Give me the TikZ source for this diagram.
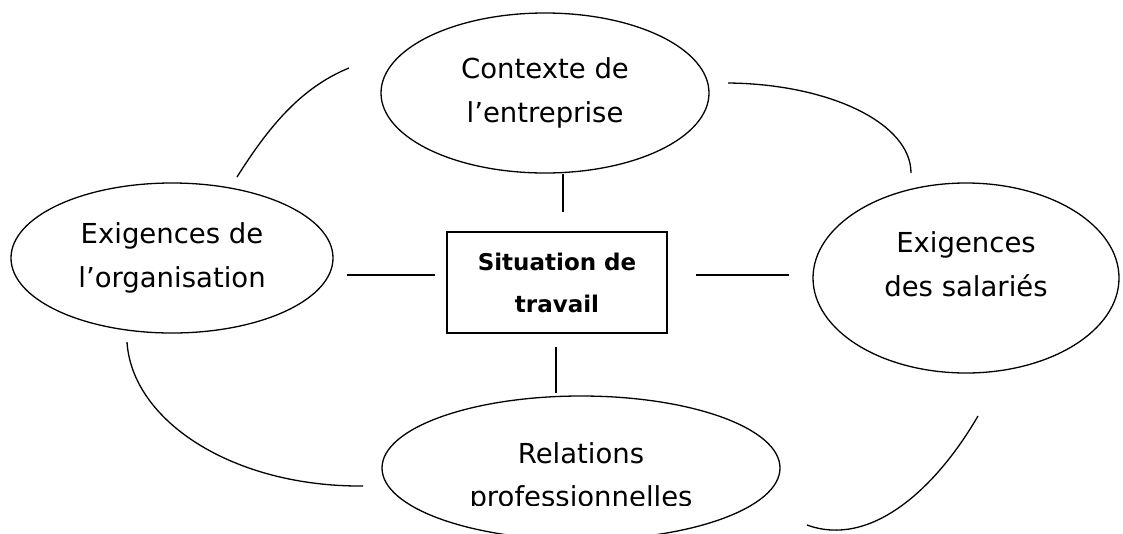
\documentclass[tikz,border=0pt]{standalone}
\usepackage{fontspec}
\setmainfont{DejaVu Sans}
\usetikzlibrary{shapes.geometric}
\begin{document}
\begin{tikzpicture}[x=1pt,y=-1pt,
  bubble/.style={draw, ellipse, line width=1.3pt, inner sep=0pt, align=center,
    font=\fontsize{27.5}{44}\selectfont},
  bubbletext/.style={inner sep=0pt, align=center, font=\fontsize{27.5}{43}\selectfont},
  centrebox/.style={draw, rectangle, line width=1.3pt, inner sep=0pt, align=center,
    font=\bfseries\fontsize{23}{42}\selectfont},
  link/.style={line width=1.5pt},
  arc/.style={line width=1.3pt},
]
\useasboundingbox (0,0) rectangle (1123,533);

% nodes
\node[bubble, minimum width=328pt, minimum height=160pt] (ctx) at (545,93) {Contexte de\\l’entreprise};
\node[bubble, minimum width=322pt, minimum height=150pt] (org) at (172,258) {Exigences de\\l’organisation};
\node[bubble, minimum width=306pt, minimum height=190pt] (sal) at (966,278) {\raisebox{12pt}[\height][\depth]{\begin{tabular}{@{}c@{}}Exigences\\des salariés\end{tabular}}};
\node[bubble, minimum width=398pt, minimum height=144pt] (rel) at (581,468) {};
\begin{scope}
  \clip (0,0) rectangle (1123,505);
  \node[bubbletext] (reltext) at (581,477) {Relations\\professionnelles};
\end{scope}
\node[centrebox, minimum width=220pt, minimum height=101pt] (sit) at (557,282.5) {Situation de\\travail};

% free ends of the short connectors
\coordinate (topend) at (563,212);
\coordinate (lA) at (347,275);
\coordinate (lB) at (435,275);
\coordinate (rA) at (696,275);
\coordinate (rB) at (789,275);
\coordinate (bA) at (556,347);
\coordinate (bB) at (556,393);

\draw[link] (ctx.south -| topend) -- (topend);
\draw[link] (lA) -- (lB);
\draw[link] (rA) -- (rB);
\draw[link] (bA) -- (bB);

% arcs
\coordinate (a1s) at (237,177);
\coordinate (a1e) at (349,68);
\draw[arc] (a1s) .. controls (268,128) and (300,88) .. (a1e);

\coordinate (a2s) at (728,83);
\coordinate (a2e) at (911,173);
\draw[arc] (a2s) .. controls (829,84) and (911,123) .. (a2e);

\coordinate (a3s) at (127,342);
\coordinate (a3e) at (363,486);
\draw[arc] (a3s) .. controls (132,421) and (233,487) .. (a3e);

\coordinate (a4s) at (807,525);
\coordinate (a4e) at (978,416);
\draw[arc] (a4s) .. controls (870,548) and (935,490) .. (a4e);
\end{tikzpicture}
\end{document}
